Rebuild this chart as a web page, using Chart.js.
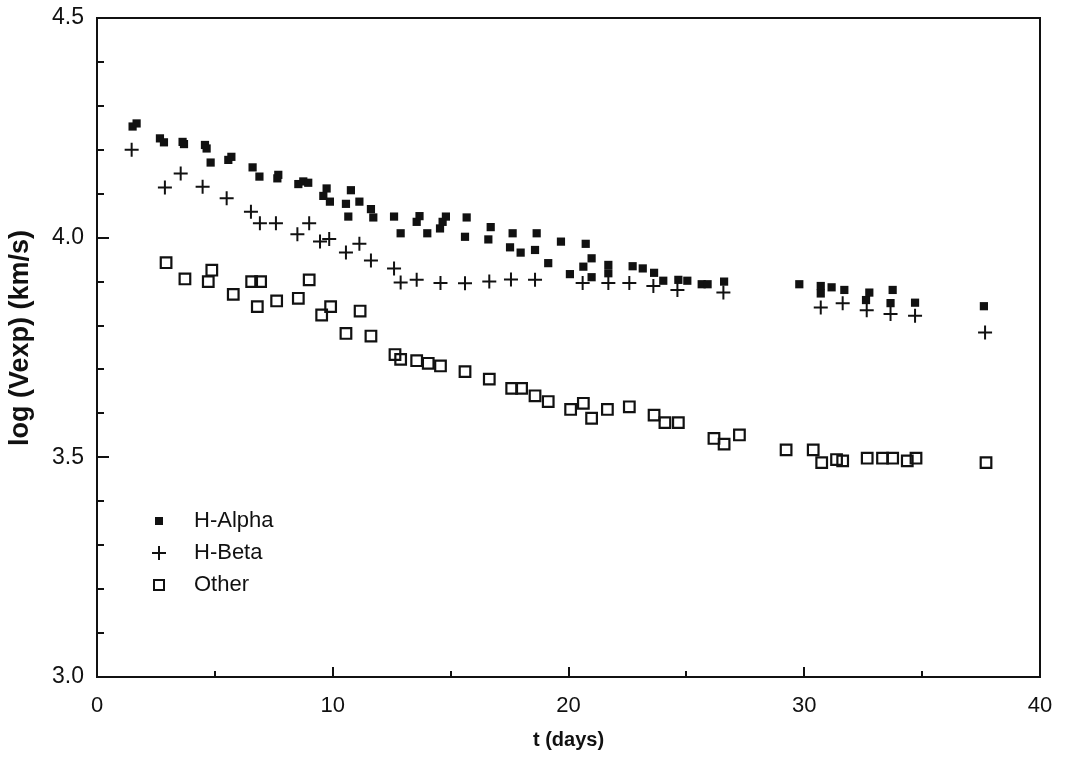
<!DOCTYPE html>
<html>
<head>
<meta charset="utf-8">
<script src="https://cdn.jsdelivr.net/npm/chart.js@4.4.1/dist/chart.umd.min.js"></script>
<style>
  html, body { margin: 0; padding: 0; background: #fff; }
  #wrap { width: 1068px; height: 757px; }
</style>
</head>
<body>
<div id="wrap"><canvas id="myChart" width="1068" height="757"></canvas></div>
<script>
// t (days) and log(Vexp)
var alphaT = [1.51, 1.68, 2.67, 2.84, 3.63, 3.69, 4.58, 4.65, 4.82, 5.57, 5.70, 6.60, 6.89, 7.65, 7.69,
    8.54, 8.75, 8.96, 9.60, 9.74, 9.88, 10.56, 10.66, 10.77, 11.13, 11.62, 11.72, 12.60, 12.88, 13.56,
    13.68, 14.01, 14.55, 14.66, 14.80, 15.61, 15.68, 16.60, 16.70, 17.52, 17.63, 17.97, 18.58, 18.65,
    19.14, 19.68, 20.06, 20.63, 20.73, 20.98, 20.98, 21.69, 21.69, 22.72, 23.15, 23.63, 24.02, 24.66,
    25.04, 25.65, 25.90, 26.60, 29.79, 30.70, 30.70, 31.16, 31.70, 32.62, 32.76, 33.66, 33.75, 34.70, 37.62];
var alphaV = [4.253, 4.260, 4.226, 4.217, 4.218, 4.213, 4.211, 4.203, 4.171, 4.177, 4.184, 4.160, 4.139, 4.135, 4.143,
    4.122, 4.128, 4.125, 4.095, 4.112, 4.082, 4.077, 4.048, 4.108, 4.082, 4.065, 4.046, 4.048, 4.010, 4.036,
    4.049, 4.010, 4.021, 4.036, 4.048, 4.002, 4.046, 3.996, 4.024, 3.978, 4.010, 3.966, 3.972, 4.010,
    3.942, 3.991, 3.917, 3.934, 3.986, 3.953, 3.910, 3.938, 3.919, 3.935, 3.930, 3.920, 3.902, 3.904,
    3.902, 3.894, 3.894, 3.900, 3.894, 3.890, 3.873, 3.887, 3.881, 3.858, 3.875, 3.851, 3.881, 3.852, 3.844];

var betaT = [1.47, 2.88, 3.55, 4.48, 5.50, 6.53, 6.91, 7.59, 8.50, 9.00, 9.46, 9.85, 10.56, 11.13, 11.62,
    12.60, 12.88, 13.56, 14.57, 15.61, 16.64, 17.56, 18.58, 20.60, 21.69, 22.58, 23.60, 24.62, 26.57,
    30.70, 31.63, 32.65, 33.66, 34.70, 37.67];
var betaV = [4.200, 4.114, 4.146, 4.116, 4.090, 4.059, 4.033, 4.033, 4.008, 4.033, 3.991, 3.997, 3.966, 3.986, 3.948,
    3.930, 3.898, 3.904, 3.897, 3.896, 3.900, 3.905, 3.904, 3.897, 3.897, 3.897, 3.890, 3.881, 3.875,
    3.841, 3.851, 3.835, 3.826, 3.822, 3.784];

var otherT = [2.93, 3.73, 4.72, 4.87, 5.78, 6.56, 6.80, 6.94, 7.62, 8.54, 9.00, 9.53, 9.91, 10.56, 11.16,
    11.62, 12.64, 12.88, 13.56, 14.05, 14.57, 15.61, 16.64, 17.59, 18.01, 18.58, 19.14, 20.09, 20.63,
    20.98, 21.65, 22.58, 23.63, 24.09, 24.66, 26.17, 26.60, 27.25, 29.23, 30.38, 30.74, 31.37, 31.63,
    32.67, 33.32, 33.75, 34.37, 34.74, 37.71];
var otherV = [3.943, 3.906, 3.900, 3.926, 3.871, 3.900, 3.843, 3.900, 3.856, 3.862, 3.904, 3.824, 3.843, 3.782, 3.833,
    3.776, 3.734, 3.723, 3.720, 3.714, 3.708, 3.695, 3.678, 3.657, 3.657, 3.640, 3.627, 3.609, 3.623,
    3.589, 3.609, 3.615, 3.596, 3.579, 3.579, 3.543, 3.530, 3.551, 3.517, 3.517, 3.488, 3.495, 3.492,
    3.498, 3.498, 3.498, 3.492, 3.498, 3.488];

var seriesNames = ['H-Alpha', 'H-Beta', 'Other'];
var xTicks = [0, 10, 20, 30, 40];
var yTicks = [3.0, 3.5, 4.0, 4.5];
var yTitle = 'log (Vexp) (km/s)';

function toPoints(t, v) {
    return t.map(function (x, i) { return { x: x, y: v[i] }; });
}

var FONT = "'Liberation Sans', Arial, Helvetica, sans-serif";
var INK = '#111';

// frame, inward ticks, y title and the legend drawn inside the plot box
var framePlugin = {
    id: 'frame',
    afterDraw: function (chart) {
        var ctx = chart.ctx;
        var a = chart.chartArea;
        var xs = chart.scales.x, ys = chart.scales.y;
        ctx.save();
        ctx.strokeStyle = INK;
        ctx.lineWidth = 2;
        ctx.strokeRect(a.left, a.top, a.right - a.left, a.bottom - a.top);

        ctx.beginPath();
        for (var i = 0; i <= 15; i++) {
            var v = 3 + i * 0.1;
            var py = Math.round(ys.getPixelForValue(v));
            var len = (i % 5 === 0) ? 12 : 7;
            ctx.moveTo(a.left, py);
            ctx.lineTo(a.left + len, py);
        }
        for (var d = 5; d < 40; d += 5) {
            var px = Math.round(xs.getPixelForValue(d));
            var l2 = (d % 10 === 0) ? 10 : 6;
            ctx.moveTo(px, a.bottom);
            ctx.lineTo(px, a.bottom - l2);
        }
        ctx.stroke();

        // y axis title, sits a bit above the middle in the original
        ctx.save();
        ctx.translate(21, 338);
        ctx.rotate(-Math.PI / 2);
        ctx.font = 'bold 27px ' + FONT;
        ctx.fillStyle = INK;
        ctx.textAlign = 'center';
        ctx.textBaseline = 'middle';
        ctx.fillText(yTitle, 0, 0);
        ctx.restore();

        // legend
        var lx = 159;
        var rows = [521, 553, 585];
        ctx.fillStyle = INK;
        ctx.fillRect(lx - 4, rows[0] - 4, 8, 8);
        ctx.beginPath();
        ctx.moveTo(lx - 7, rows[1]); ctx.lineTo(lx + 7, rows[1]);
        ctx.moveTo(lx, rows[1] - 7); ctx.lineTo(lx, rows[1] + 7);
        ctx.stroke();
        ctx.strokeRect(lx - 5, rows[2] - 5, 10, 10);

        ctx.font = '22px ' + FONT;
        ctx.textBaseline = 'middle';
        ctx.textAlign = 'left';
        for (var k = 0; k < seriesNames.length; k++) {
            ctx.fillText(seriesNames[k], 194, rows[k]);
        }
        ctx.restore();
    }
};

var ctx = document.getElementById('myChart').getContext('2d');
var chart = new Chart(ctx, {
    type: 'scatter',
    data: {
        datasets: [{
            label: seriesNames[0],
            data: toPoints(alphaT, alphaV),
            pointStyle: 'rect',
            radius: 5.8,
            backgroundColor: INK,
            borderColor: INK,
            borderWidth: 0
        }, {
            label: seriesNames[1],
            data: toPoints(betaT, betaV),
            pointStyle: 'cross',
            radius: 7,
            backgroundColor: INK,
            borderColor: INK,
            borderWidth: 2
        }, {
            label: seriesNames[2],
            data: toPoints(otherT, otherV),
            pointStyle: 'rect',
            radius: 7.5,
            backgroundColor: 'rgba(255,255,255,0)',
            borderColor: INK,
            borderWidth: 2.2
        }]
    },
    options: {
        responsive: false,
        animation: false,
        events: [],
        layout: {
            padding: { left: 0, right: 28, top: 18, bottom: 0 }
        },
        plugins: {
            legend: { display: false },
            tooltip: { enabled: false }
        },
        scales: {
            x: {
                type: 'linear',
                min: 0,
                max: 40,
                afterFit: function (s) { s.height = 80; s.paddingLeft = 0; s.paddingRight = 0; },
                afterBuildTicks: function (s) { s.ticks = xTicks.map(function (v) { return { value: v }; }); },
                grid: { display: false, drawTicks: false },
                border: { display: false },
                ticks: {
                    color: INK,
                    font: { family: FONT, size: 22 },
                    padding: 16,
                    maxRotation: 0
                },
                title: {
                    display: true,
                    text: 't (days)',
                    color: INK,
                    font: { family: FONT, size: 20, weight: 'bold' },
                    padding: { top: 0, bottom: 5 }
                }
            },
            y: {
                type: 'linear',
                min: 3.0,
                max: 4.5,
                afterFit: function (s) { s.width = 97; s.paddingTop = 0; s.paddingBottom = 0; },
                afterBuildTicks: function (s) { s.ticks = yTicks.map(function (v) { return { value: v }; }); },
                grid: { display: false, drawTicks: false },
                border: { display: false },
                ticks: {
                    color: INK,
                    font: { family: FONT, size: 23 },
                    padding: 13,
                    callback: function (v) { return Number(v).toFixed(1); }
                },
                title: { display: false }
            }
        }
    },
    plugins: [framePlugin]
});
</script>
</body>
</html>
